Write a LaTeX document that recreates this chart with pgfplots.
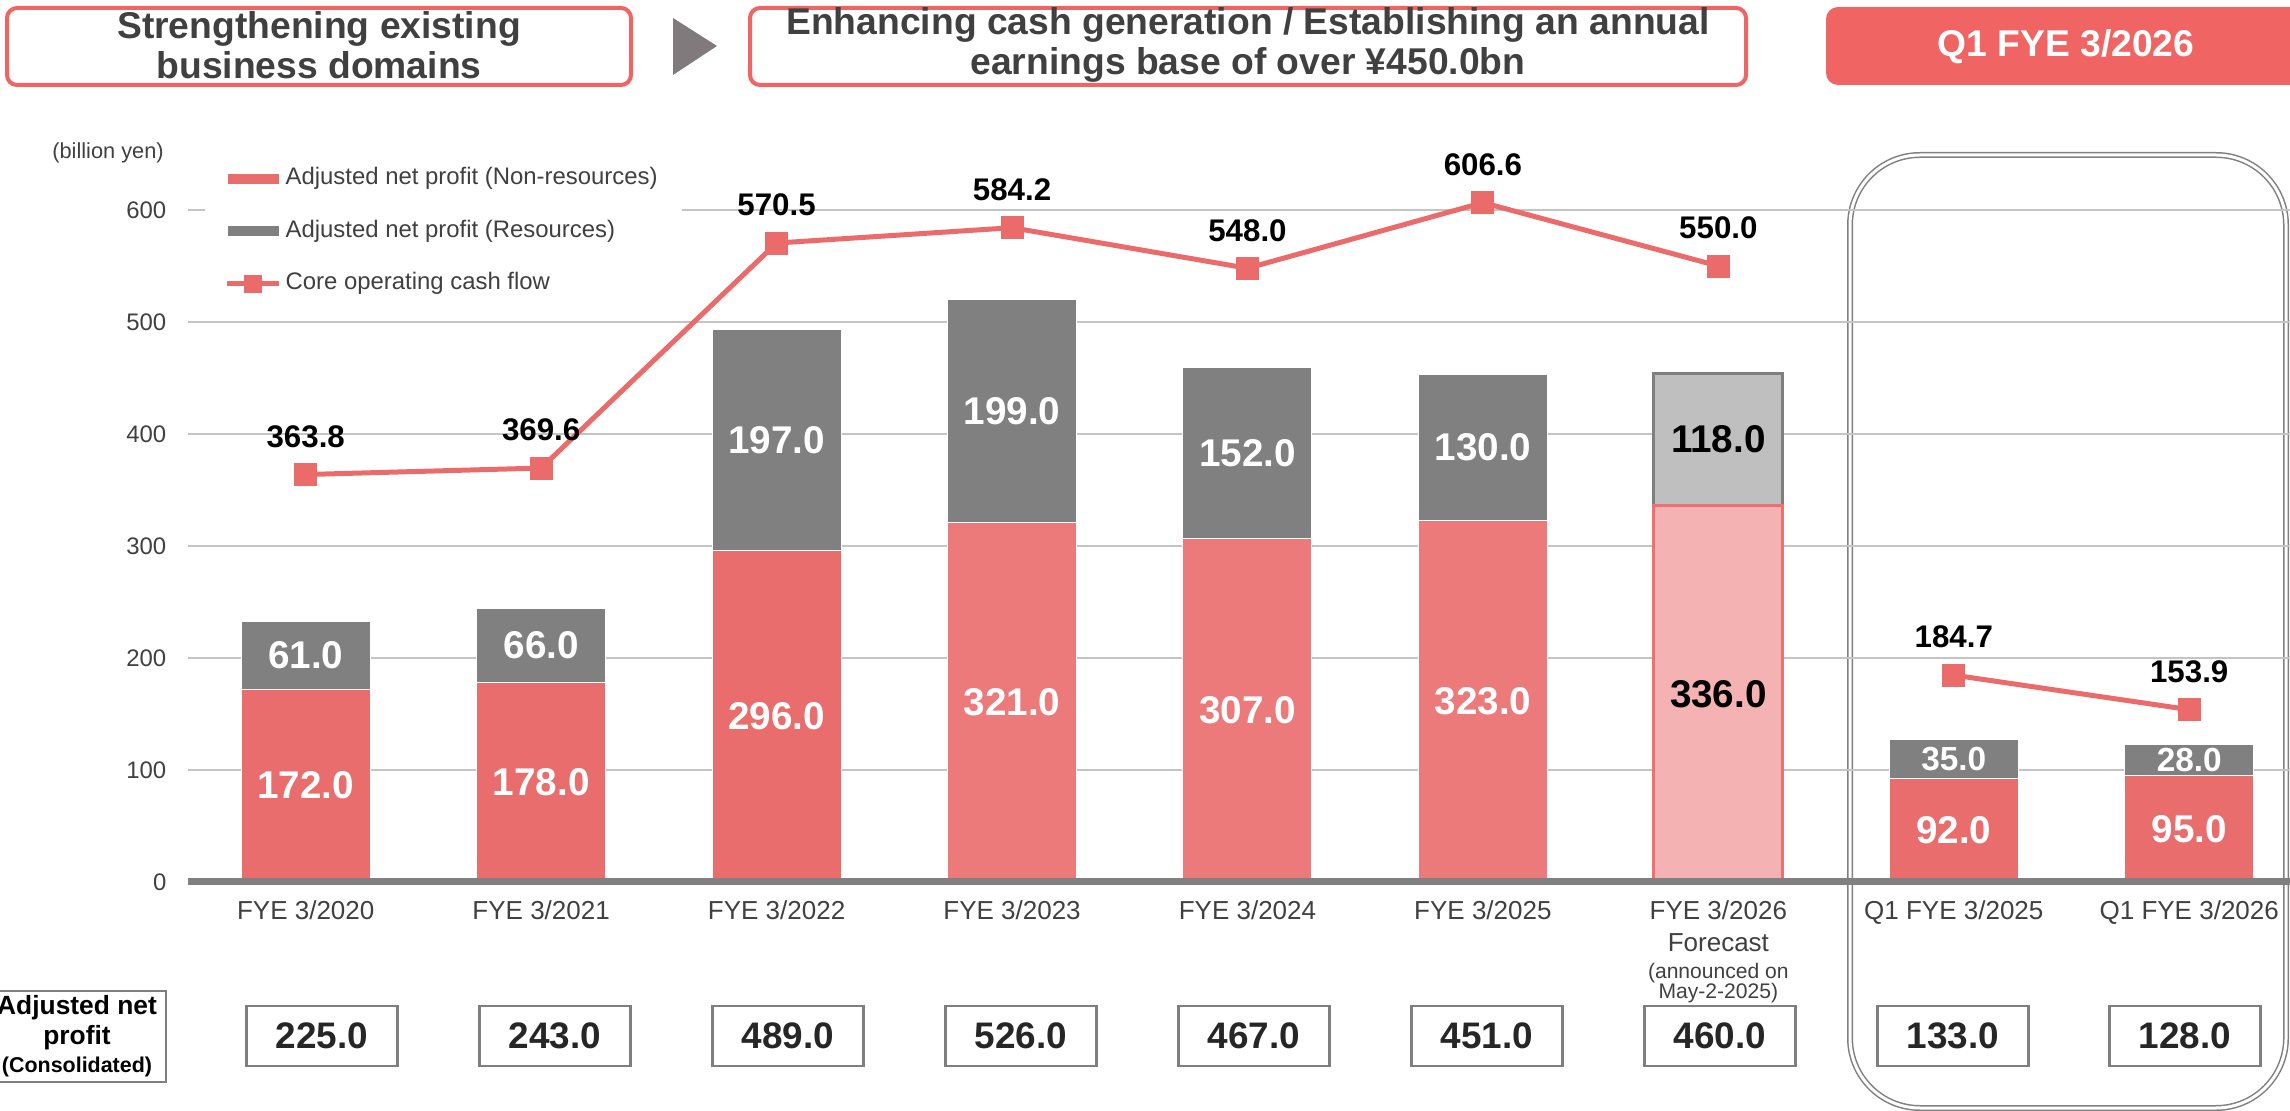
\documentclass[border=0pt]{standalone}
\usepackage{pgfplots}
\pgfplotsset{compat=1.18}
\usepackage{fontspec}
\setmainfont{Liberation Sans}
\definecolor{barred}{HTML}{EA6D6D}
\definecolor{barredb}{HTML}{EC7A7A}
\definecolor{linered}{HTML}{EB6B6B}
\definecolor{resgray}{HTML}{808080}
\definecolor{fcred}{HTML}{F4B2B2}
\definecolor{fcredline}{HTML}{EE7070}
\definecolor{fcgray}{HTML}{BFBFBF}
\definecolor{fcgrayline}{HTML}{7F7F7F}
\definecolor{gridgray}{HTML}{C4C4C4}
\definecolor{txt}{HTML}{404040}
\definecolor{dtxt}{HTML}{262626}
\definecolor{hdrred}{HTML}{F06464}
\definecolor{arrowgray}{HTML}{807A7C}
\newcommand{\fs}[2]{\fontsize{#1pt}{#2pt}\selectfont}
\newcommand{\qf}{\fs{9.5}{11}}
\newcommand{\onedec}[1]{\pgfmathprintnumber[fixed,fixed zerofill,precision=1]{#1}}
\pgfkeys{/pgf/number format/assume math mode=true}
\pgfplotsset{
  base/.style={
    at={(18.8mm,-88.2mm)}, anchor=south west, scale only axis,
    width=210.2mm, height=72.8mm,
    xmin=-0.5, xmax=8.428, ymin=0, ymax=650,
    enlargelimits=false, clip=false,
  },
  barlegend/.style={legend image code/.code={\fill[##1] (0mm,-0.55mm) rectangle (5.2mm,0.55mm);}},
  linelegend/.style={legend image code/.code={\draw[##1] (0mm,0mm) -- (5.2mm,0mm); \fill[linered] (1.95mm,-0.65mm) rectangle (3.25mm,0.65mm);}},
  seglabel/.style={
    every node near coord/.append style={font=\bfseries\fs{11}{13}, text=#1, anchor=center, inner sep=0pt}
  },
  barnum/.style={point meta=rawy, nodes near coords={\onedec{\pgfplotspointmeta}}},
}
\begin{document}
\begin{tikzpicture}[x=0.1mm,y=-0.1mm]
\useasboundingbox (0,0) rectangle (2290,1111);
% group frame
\draw[fcgrayline, line width=0.15mm, double=white, double distance=0.3mm, rounded corners=7mm] (1850,155) rectangle (2286,1108);

% axis A: grid, ticks, legend, bars 2020-2022 and Q1
\begin{axis}[base, ybar stacked, bar width=12.9mm,
  axis line style={draw=none}, tick style={draw=none},
  ytick={0,100,...,600}, yticklabels={0,100,200,300,400,500,600},
  ymajorgrids, major grid style={gridgray, line width=0.25mm},
  xtick={0,...,8},
  xticklabels={FYE 3/2020,FYE 3/2021,FYE 3/2022,FYE 3/2023,FYE 3/2024,FYE 3/2025,{FYE 3/2026\\Forecast\\[-0.5mm]{\fs{6}{7}(announced on}\\[-1.2mm]{\fs{6}{7}May-2-2025)}},Q1 FYE 3/2025,Q1 FYE 3/2026},
  xticklabel style={font=\fs{7.4}{9.1}, text=txt, align=center, anchor=north, inner sep=0pt, yshift=-1.8mm},
  yticklabel style={font=\fs{6.8}{8}, text=txt, inner sep=0pt, xshift=-2.1mm},
  legend style={at={(axis description cs:0.0076,1.0014)}, anchor=north west, draw=none, fill=white, inner xsep=2mm, inner ysep=1mm, font=\fs{6.8}{8}, text=txt, row sep=2.25mm, nodes={inner sep=0.4mm, text height=1.7mm, text depth=0.5mm}},
  legend cell align=left,
]
\addplot[fill=barred, draw=white, line width=0.1mm, barlegend, barnum, seglabel=white]
  coordinates {(0,172) (1,178) (2,296) (7,92) (8,95)};
\addlegendentry{Adjusted net profit (Non-resources)}
\addplot[fill=resgray, draw=white, line width=0.1mm, barlegend,
  point meta=explicit symbolic, nodes near coords, seglabel=white]
  coordinates {(0,61)[61.0] (1,66)[66.0] (2,197)[197.0] (7,35)[\qf 35.0] (8,28)[\qf 28.0]};
\addlegendentry{Adjusted net profit (Resources)}
\addlegendimage{linered, line width=0.5mm, linelegend}
\addlegendentry{Core operating cash flow}
\end{axis}

% axis B: bars 2023-2025 (slightly lighter red)
\begin{axis}[base, hide axis, ybar stacked, bar width=12.9mm]
\addplot[fill=barredb, draw=white, line width=0.1mm, barnum, seglabel=white]
  coordinates {(3,321) (4,307) (5,323)};
\addplot[fill=resgray, draw=white, line width=0.1mm, barnum, seglabel=white]
  coordinates {(3,199) (4,152) (5,130)};
\end{axis}

% axis C: forecast
\begin{axis}[base, hide axis, ybar stacked, bar width=12.9mm]
\addplot[fill=fcred, draw=fcredline, line width=0.3mm, barnum, seglabel=black] coordinates {(6,336)};
\addplot[fill=fcgray, draw=fcgrayline, line width=0.3mm, barnum, seglabel=black] coordinates {(6,118)};
\end{axis}

% axis D: core operating cash flow
\begin{axis}[base, hide axis]
\addplot[linered, line width=0.5mm, mark=square*, mark size=0.9mm, mark options={solid, fill=linered},
  point meta=y, nodes near coords={\onedec{\pgfplotspointmeta}},
  every node near coord/.append style={font=\bfseries\fs{8.9}{10}, text=black, anchor=center, yshift=3.8mm}]
  coordinates {(0,363.8) (1,369.6) (2,570.5) (3,584.2) (4,548.0) (5,606.6) (6,550.0)};
\addplot[linered, line width=0.5mm, mark=square*, mark size=0.9mm, mark options={solid, fill=linered},
  point meta=y, nodes near coords={\onedec{\pgfplotspointmeta}},
  every node near coord/.append style={font=\bfseries\fs{8.9}{10}, text=black, anchor=center, yshift=3.8mm}]
  coordinates {(7,184.7) (8,153.9)};
\draw[resgray, line width=0.7mm] (rel axis cs:0,0) -- (rel axis cs:1,0);
\end{axis}

% header
\draw[hdrred, line width=0.4mm, rounded corners=1mm] (7,8) rectangle (631,85);
\node[font=\bfseries\fs{10.6}{11.4}, text=txt, align=center] at (319,45) {Strengthening existing\\business domains};
\fill[arrowgray] (673,18) -- (717,46) -- (673,75) -- cycle;
\draw[hdrred, line width=0.4mm, rounded corners=1mm] (750,8) rectangle (1746,85);
\node[font=\bfseries\fs{10.6}{11.4}, text=txt, align=center] at (1248,45) {Enhancing cash generation / Establishing an annual\\earnings base of over ¥450.0bn};
\fill[hdrred, rounded corners=1.2mm] (1826,7) rectangle (2310,85);
\node[font=\bfseries\fs{10.6}{13}, text=white] at (2066,47) {Q1 FYE 3/2026};
\node[font=\fs{6.2}{7}, text=txt] at (108,153) {(billion yen)};

% bottom table
\foreach \x/\v in {322/225.0,555/243.0,788/489.0,1021/526.0,1254/467.0,1487/451.0,1720/460.0,1953/133.0,2185/128.0}
  \node[draw=fcgrayline, line width=0.25mm, fill=white, minimum width=15.1mm, minimum height=6mm, inner sep=0pt, font=\bfseries\fs{10.5}{12}, text=dtxt] at (\x,1036) {\v};
\draw[fcgrayline, line width=0.25mm] (-20,991) rectangle (166,1082);
\node[font=\bfseries\fs{7.5}{8.4}, text=black] at (77,1008) {Adjusted net};
\node[font=\bfseries\fs{7.5}{8.4}, text=black] at (77,1038) {profit};
\node[font=\bfseries\fs{6.1}{7}, text=black] at (77,1067) {(Consolidated)};
\end{tikzpicture}
\end{document}
